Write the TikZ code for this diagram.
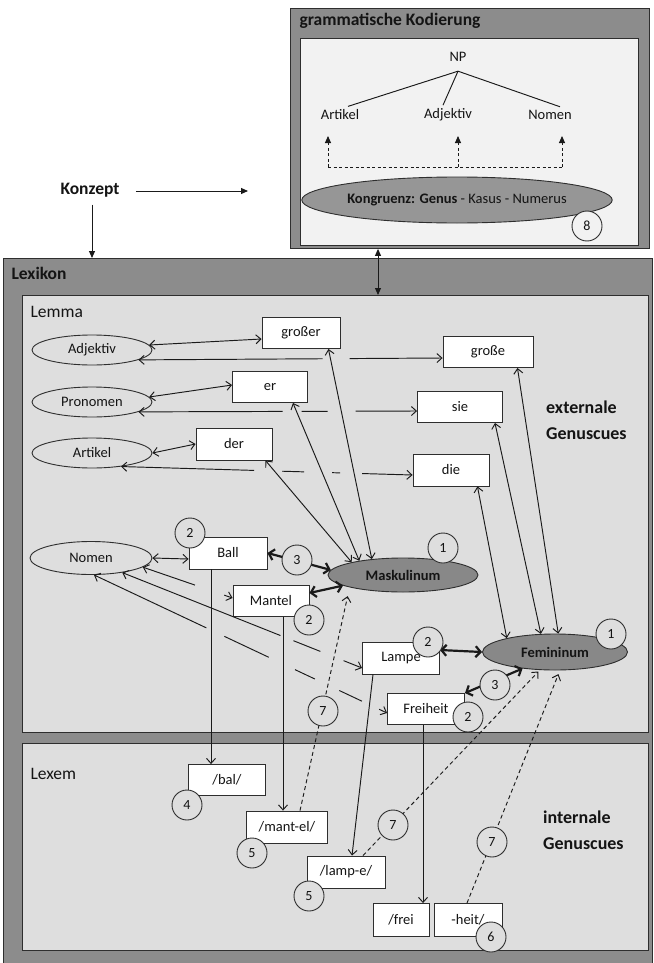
\documentclass[tikz,border=0pt]{standalone}
\usepackage{fontspec}
\setmainfont{Carlito}
\usetikzlibrary{arrows.meta,shapes.geometric}
\definecolor{outerc}{HTML}{8C8C8C}
\definecolor{lemc}{HTML}{DEDEDE}
\definecolor{topc}{HTML}{F2F2F2}
\definecolor{genc}{HTML}{888888}
\definecolor{kongc}{HTML}{969696}
\definecolor{boxc}{HTML}{2E2E2E}
\definecolor{linec}{HTML}{1A1A1A}
\definecolor{txtc}{HTML}{141414}
\begin{document}
\begin{tikzpicture}[x=1pt,y=-1pt,
  lbl/.style={font=\fontsize{14.5}{17}\selectfont, text=txtc},
  ttl/.style={font=\fontsize{17.5}{20}\selectfont\bfseries, text=txtc},
  panel/.style={draw=boxc, line width=0.9pt, anchor=north west, inner sep=0pt},
  wbox/.style={draw=boxc, fill=white, line width=0.9pt, lbl, inner sep=0pt},
  oval/.style={ellipse, draw=boxc, line width=0.9pt, lbl, inner sep=0pt},
  gen/.style={oval, fill=genc, font=\fontsize{14.5}{17}\selectfont\bfseries},
  num/.style={circle, draw=boxc, fill=lemc, line width=0.9pt, minimum size=30pt, inner sep=0pt, font=\fontsize{14}{16}\selectfont, text=txtc},
  ln/.style={draw=linec, line width=0.95pt},
  arr/.style={ln, -{Straight Barb[length=5pt,width=9pt]}},
  darr/.style={ln, {Straight Barb[length=5pt,width=9pt]}-{Straight Barb[length=5pt,width=9pt]}},
  thk/.style={draw=linec, line width=2.2pt, {Straight Barb[length=5pt,width=11pt]}-{Straight Barb[length=5pt,width=11pt]}},
  dsh/.style={ln, dash pattern=on 4pt off 3pt, -{Straight Barb[length=5pt,width=9pt]}},
  tri/.style={ln, -{Triangle[length=7pt,width=6pt]}}
]
\useasboundingbox (0,0) rectangle (653,963);

% ---------- panels ----------
\node[panel, fill=outerc, minimum width=359, minimum height=240] (gk) at (290,8) {};
\node[panel, fill=topc, minimum width=338, minimum height=207] (gkin) at (300,38) {};
\node[ttl, anchor=west] (gkt) at (296,21) {grammatische Kodierung};

\node[panel, fill=outerc, minimum width=649, minimum height=720] (lex) at (3,258) {};
\node[ttl, anchor=west] (lext) at (8,273) {Lexikon};
\node[panel, fill=lemc, minimum width=626, minimum height=437] (lemma) at (22,295) {};
\node[lbl, font=\fontsize{17.5}{20}\selectfont, anchor=west] (lemt) at (27,312) {Lemma};
\node[panel, fill=lemc, minimum width=626, minimum height=207] (lexem) at (22,743) {};
\node[lbl, font=\fontsize{17.5}{20}\selectfont, anchor=west] (lexemt) at (27,774) {Lexem};

% ---------- grammatische Kodierung ----------
\node[lbl] (np) at (458,57) {NP};
\node[lbl] (art) at (340,115) {Artikel};
\node[lbl] (adj) at (448,115) {Adjektiv};
\node[lbl] (nom) at (550,115) {Nomen};
\draw[ln] ([yshift=-6pt]np.south) -- ([xshift=8pt]art.north);
\draw[ln] ([yshift=-6pt]np.south) -- ([xshift=-5pt]adj.north);
\draw[ln] ([yshift=-6pt]np.south) -- ([xshift=10pt]nom.north);
\node[ellipse, draw=boxc, fill=kongc, line width=0.9pt, minimum width=300, minimum height=46, inner sep=0pt, lbl] (kong) at (457,200) {\textbf{Kongruenz: Genus} - Kasus - Numerus};
\coordinate (d1) at (328,167);
\coordinate (d2) at (458,167);
\coordinate (d3) at (562,167);
\coordinate (h1) at (328,136);
\coordinate (h2) at (458,136);
\coordinate (h3) at (562,136);
\draw[ln, dash pattern=on 3pt off 2.5pt] (d1) -- (d3);
\draw[tri, dash pattern=on 3pt off 2.5pt] (d1) -- (h1);
\draw[tri, dash pattern=on 3pt off 2.5pt] (d2) -- (h2);
\draw[tri, dash pattern=on 3pt off 2.5pt] (d3) -- (h3);
\node[num, fill=topc] (c8) at (587,226) {8};

% ---------- Konzept ----------
\node[ttl] (konzept) at (90,190) {Konzept};
\coordinate (kend) at (248,191);
\draw[tri] ([xshift=13pt,yshift=-1pt]konzept.east) -- (kend);
\draw[tri] ([xshift=2pt,yshift=-4pt]konzept.south) -- ([xshift=2pt]konzept.south |- lex.north);
\coordinate (ax) at (378,0);
\draw[ln, {Triangle[length=7pt,width=6pt]}-{Triangle[length=7pt,width=6pt]}] (ax |- gk.south) -- (ax |- lemma.north);

% ---------- Lemma nodes ----------
\node[oval, minimum width=120, minimum height=30] (adjE) at (92,350) {Adjektiv};
\node[oval, minimum width=120, minimum height=30] (proE) at (92,402) {Pronomen};
\node[oval, minimum width=120, minimum height=30] (artE) at (92,453) {Artikel};
\node[oval, minimum width=122, minimum height=33] (nomE) at (91,558) {Nomen};

\node[wbox, minimum width=78, minimum height=31] (grosser) at (301,333) {großer};
\node[wbox, minimum width=75, minimum height=31] (er) at (270,387) {er};
\node[wbox, minimum width=76, minimum height=32] (der) at (234,444) {der};
\node[wbox, minimum width=90, minimum height=31] (grosse) at (488,352) {große};
\node[wbox, minimum width=85, minimum height=31] (sie) at (460,407) {sie};
\node[wbox, minimum width=76, minimum height=32] (die) at (451,470) {die};
\node[wbox, minimum width=78, minimum height=32] (ball) at (228,553) {Ball};
\node[wbox, minimum width=76, minimum height=31] (mantel) at (271,601) {Mantel};
\node[wbox, minimum width=77, minimum height=32] (lampe) at (401,658) {Lampe};
\node[wbox, minimum width=77, minimum height=31] (freiheit) at (426,709) {Freiheit};

\node[gen, minimum width=150, minimum height=34] (mask) at (403,575) {Maskulinum};
\node[gen, minimum width=145, minimum height=36] (fem) at (555,652) {Femininum};

\node[font=\fontsize{18}{26}\selectfont\bfseries, text=txtc, align=left, anchor=west, inner sep=0pt] (ext) at (546,420) {externale\\Genuscues};

% ---------- Lexem nodes ----------
\node[wbox, minimum width=77, minimum height=31] (bal) at (227,780) {/bal/};
\node[wbox, minimum width=81, minimum height=32] (mantel2) at (287,827) {/mant-el/};
\node[wbox, minimum width=78, minimum height=32] (lampe2) at (346,872) {/lamp-e/};
\node[wbox, minimum width=56, minimum height=33] (frei) at (401,920) {/frei};
\node[wbox, minimum width=68, minimum height=33] (heit) at (468,920) {-heit/};
\node[font=\fontsize{18}{26}\selectfont\bfseries, text=txtc, align=left, anchor=west, inner sep=0pt] (int) at (543,830) {internale\\Genuscues};

% ---------- connectors: word class ellipses ----------
\draw[darr] (adjE.5) -- ([yshift=-6pt]grosser.west);
\draw[darr] (proE.5) -- ([yshift=2pt]er.west);
\draw[darr] (artE.east) -- (der.west);
\draw[darr] (nomE.east) -- ([yshift=-6pt]ball.west);

\draw[darr, dash pattern=on 183pt off 27pt on 200pt] (adjE.-12) -- ([yshift=-6pt]grosse.west);
\draw[darr, dash pattern=on 143pt off 19pt on 26pt off 28pt on 200pt] (proE.-12) -- ([yshift=-4pt]sie.west);
\draw[darr, dash pattern=on 132pt off 28pt on 22pt off 28pt on 8pt off 22pt on 200pt] (artE.-25) -- ([yshift=-5pt]die.west);

\draw[darr, dash pattern=on 54pt off 31pt on 100pt] (nomE.-10) -- ([yshift=3pt]mantel.west);
\draw[darr, dash pattern=on 169pt off 14pt on 29pt off 25pt on 100pt] (nomE.-25) -- ([yshift=-10pt]lampe.west);
\draw[darr, dash pattern=on 123pt off 20pt on 49pt off 29pt on 22pt off 27pt on 25pt off 19pt on 100pt] (nomE.-80) -- ([yshift=-4pt]freiheit.west);

% ---------- connectors: gender ----------
\draw[darr] ([xshift=-12pt]grosser.south east) -- (mask.153);
\draw[darr] ([xshift=-15pt]er.south east) -- (mask.162);
\draw[darr] ([xshift=-7pt]der.south east) -- (mask.166);
\draw[darr] ([xshift=-12pt]die.south east) -- (fem.164);
\draw[darr] ([xshift=-8pt]sie.south east) -- (fem.128);
\draw[darr] ([xshift=-16pt]grosse.south east) -- (fem.80);

\draw[thk] (ball.east) -- (mask.176);
\draw[thk] ([yshift=8pt]mantel.east) -- (mask.190);
\draw[thk] ([yshift=8pt]lampe.east) -- (fem.west);
\draw[thk] (freiheit.north east) -- (fem.207);

% ---------- connectors: lemma to lexem ----------
\draw[arr] ([xshift=-17pt]ball.south) -- ([xshift=-17pt]ball.south |- bal.north);
\draw[arr] ([xshift=12pt]mantel.south) -- ([xshift=12pt]mantel.south |- mantel2.north);
\draw[arr] ([xshift=-28pt]lampe.south) -- ([xshift=6pt]lampe2.north);
\draw[arr] ([xshift=-3pt]freiheit.south) -- ([xshift=-3pt]freiheit.south |- frei.north);

\draw[dsh, shorten >=9pt] ([xshift=13pt]mantel2.north) -- (mask.193);
\draw[dsh, shorten >=2pt] ([xshift=17pt]lampe2.north) -- (fem.230);
\draw[dsh, shorten >=4pt] ([xshift=-1pt]heit.north) -- (fem.285);

% ---------- numbered circles ----------
\node[num] (c1m) at (443,548) {1};
\node[num] (c1f) at (611,634) {1};
\node[num] (c2ball) at (190,533) {2};
\node[num] (c3ball) at (297,560) {3};
\node[num] (c2mantel) at (309,620) {2};
\node[num] (c2lampe) at (428,642) {2};
\node[num] (c3frei) at (495,685) {3};
\node[num] (c2frei) at (468,717) {2};
\node[num] (c7a) at (323,711) {7};
\node[num] (c4) at (187,805) {4};
\node[num] (c5a) at (252,853) {5};
\node[num] (c5b) at (309,896) {5};
\node[num] (c7b) at (393,825) {7};
\node[num] (c6) at (491,937) {6};
\node[num] (c7c) at (492,842) {7};
\end{tikzpicture}
\end{document}
